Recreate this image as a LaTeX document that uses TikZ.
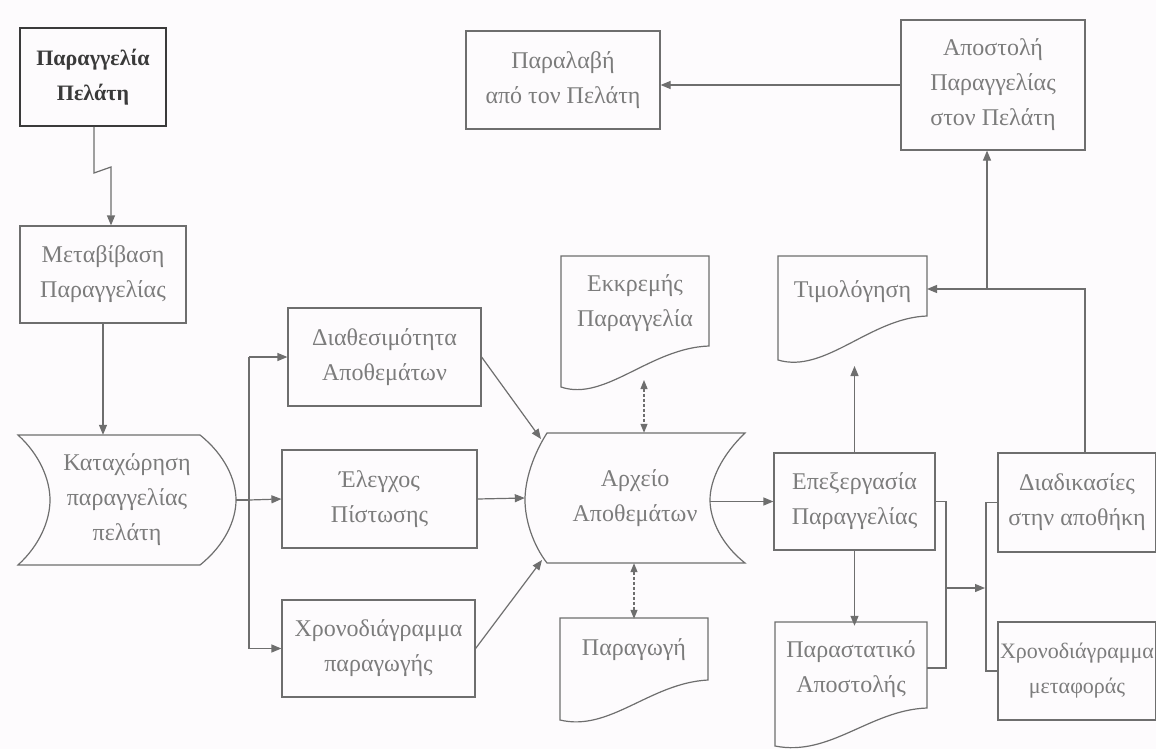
\documentclass[tikz,border=0pt]{standalone}
\usepackage{fontspec}
\setmainfont{Liberation Serif}
\usetikzlibrary{arrows.meta}
\definecolor{lc}{HTML}{6E6E6E}
\definecolor{tc}{HTML}{7C7C7C}
\definecolor{dk}{HTML}{3A3A3A}
\definecolor{bg}{HTML}{FDFBFD}
\begin{document}
\begin{tikzpicture}[x=1pt,y=-1pt,
  lw/.style={line width=1.2pt, draw=lc},
  box/.style={lw, align=center, text=tc, inner sep=0pt,
    font=\fontsize{24}{35}\selectfont},
  txt/.style={align=center, text=tc, inner sep=0pt,
    font=\fontsize{24}{35}\selectfont},
  arr/.style={lw, -{Triangle[length=10pt,width=8pt]}},
  darr/.style={lw, dashed, dash pattern=on 3pt off 2pt,
    {Triangle[length=9pt,width=7pt]}-{Triangle[length=9pt,width=7pt]}}]
\fill[bg] (0,0) rectangle (1156,749);
\useasboundingbox (0,0) rectangle (1156,749);

% rectangles
\node[box, draw=dk, line width=2pt, text=dk, font=\fontsize{22}{35}\selectfont\bfseries,
  minimum width=146pt, minimum height=98pt] (pp) at (93,77) {Παραγγελία\\Πελάτη};
\node[box, minimum width=166pt, minimum height=97pt] (mp) at (103,274.5) {Μεταβίβαση\\Παραγγελίας};
\node[box, minimum width=193pt, minimum height=98pt] (da) at (384.5,357) {Διαθεσιμότητα\\Αποθεμάτων};
\node[box, minimum width=195pt, minimum height=98pt] (el) at (379.5,499) {Έλεγχος\\Πίστωσης};
\node[box, minimum width=193pt, minimum height=97pt] (xp) at (378.5,648.5) {Χρονοδιάγραμμα\\παραγωγής};
\node[box, minimum width=161pt, minimum height=97pt] (ep) at (854.5,501.5) {Επεξεργασία\\Παραγγελίας};
\node[box, minimum width=158pt, minimum height=99pt] (dd) at (1077,502.5) {Διαδικασίες\\στην αποθήκη};
\node[box, font=\fontsize{22}{35}\selectfont, minimum width=158pt, minimum height=98pt] (xm) at (1077,671) {Χρονοδιάγραμμα\\μεταφοράς};
\node[box, minimum width=184pt, minimum height=130pt] (ao) at (993,85) {Αποστολή\\Παραγγελίας\\στον Πελάτη};
\node[box, minimum width=194pt, minimum height=98pt] (pl) at (563,80) {Παραλαβή\\από τον Πελάτη};

% stored data shapes
\node[txt, minimum width=218pt, minimum height=130pt] (kp) at (127,500) {Καταχώρηση\\παραγγελίας\\πελάτη};
\draw[lw] (18,435) -- (200,435) .. controls (225,455) and (236,480) .. (236,500)
  .. controls (236,520) and (225,545) .. (200,565) -- (18,565)
  .. controls (40,545) and (50,520) .. (50,500) .. controls (50,480) and (40,455) .. (18,435) -- cycle;
\node[txt, minimum width=220pt, minimum height=130pt] (ar) at (635,498) {Αρχείο\\Αποθεμάτων};
\draw[lw] (547,433) -- (745,433) .. controls (722,455) and (710,480) .. (710,500)
  .. controls (710,520) and (722,545) .. (745,563) -- (547,563)
  .. controls (533,545) and (525,520) .. (525,500) .. controls (525,480) and (533,455) .. (547,433) -- cycle;

% documents
\node[txt, minimum width=148pt, minimum height=90pt] (eo) at (635,303) {Εκκρεμής\\Παραγγελία};
\draw[lw] (561,256) -- (709,256) -- (709,346) .. controls (650,348) and (605,402) .. (561,387) -- cycle;
\node[txt, minimum width=149pt, minimum height=60pt] (tm) at (852.5,292) {Τιμολόγηση};
\draw[lw] (778,256) -- (927,256) -- (927,316) .. controls (870,318) and (825,374) .. (778,360) -- cycle;
\node[txt, minimum width=148pt, minimum height=62pt] (pg) at (634,650) {Παραγωγή};
\draw[lw] (560,618) -- (708,618) -- (708,680) .. controls (650,683) and (610,732) .. (560,720) -- cycle;
\node[txt, minimum width=152pt, minimum height=86pt] (ps) at (851,669) {Παραστατικό\\Αποστολής};
\draw[lw] (775,622) -- (927,622) -- (927,708) .. controls (870,710) and (830,757) .. (775,746) -- cycle;

% coordinates
\coordinate (z1) at (94,173);
\coordinate (z2) at (111,167);
\coordinate (br) at (249,500);
\coordinate (arT) at (541,439);
\coordinate (arB) at (542,560);
\coordinate (arR) at (710,501.5);
\coordinate (eoB) at (644,380);
\coordinate (tmB) at (850,366);
\coordinate (tmR) at (927,289);
\coordinate (b1) at (946,668);
\coordinate (b2) at (946,588);
\coordinate (b3) at (985,588);
\coordinate (c2) at (986,671);

% connectors
\draw[arr] (pp.south) ++(1,0) -- (z1) -- (z2) -- (z2 |- mp.north);
\draw[arr] (mp.south) -- (mp.south |- kp.north);
\draw[lw] (kp.east) -- (br);
\draw[lw] (br |- da.west) -- (br |- xp.west);
\draw[arr] (br |- da.west) -- (da.west);
\draw[arr] (br) -- (el.west);
\draw[arr] (br |- xp.west) -- (xp.west);
\draw[arr] (da.east) -- (arT);
\draw[arr] (el.east) -- (ar.west);
\draw[arr] (xp.east) -- (arB);
\draw[darr] (eoB) -- (eoB |- ar.north);
\draw[darr] (ar.south -| pg.north) -- (pg.north);
\draw[arr] (arR) -- (ep.west);
\draw[arr] (ep.north) -- (ep.north |- tmB);
\draw[arr] (ep.south) -- (ep.south |- ps.north);
\draw[lw] (ep.east) -| (b1) -- (b1 -| ps.east);
\draw[arr] (b2) -- (b3);
\draw[lw] (dd.west) -| (c2) -- (xm.west);
\draw[arr] ([xshift=8pt]dd.north) |- (tmR);
\draw[arr] ([xshift=-6pt]ao.south |- tmR) -- ([xshift=-6pt]ao.south);
\draw[arr] (ao.west) -- (ao.west -| pl.east);
\end{tikzpicture}
\end{document}
